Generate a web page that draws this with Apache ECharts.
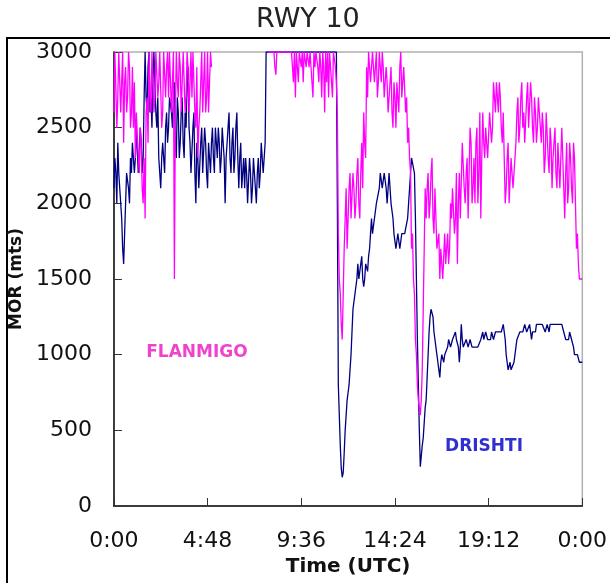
<!DOCTYPE html>
<html>
<head>
<meta charset="utf-8">
<script src="https://cdn.jsdelivr.net/npm/echarts@6/dist/echarts.min.js"></script>
<style>
  html, body { margin: 0; padding: 0; background: #fff; }
  #chart { width: 610px; height: 583px; }
</style>
</head>
<body>
<div id="chart"></div>
<script>
// readings every 3 minutes, kept as two lists:
// *On = samples at 0:00, 0:06, 0:12 ...  *Mid = samples at 0:03, 0:09, 0:15 ...
// one row per hour
const STEP_MIN = 6;
const xTicks = ['0:00', '4:48', '9:36', '14:24', '19:12', '0:00'];
const yTicks = [0, 500, 1000, 1500, 2000, 2500, 3000];

// FLANMIGO (magenta), MOR in metres
const flanmigoOn = [
  2600, 3000, 2700, 3000, 2800, 2400, 2900, 2700, 2900, 2600,
  2500, 2300, 2600, 2200, 2400, 2000, 1900, 2700, 3000, 2600,
  3000, 2700, 3000, 2800, 3000, 2600, 3000, 2900, 2700, 3000,
  2800, 1500, 3000, 2700, 2900, 2600, 3000, 2700, 2900, 2800,
  2700, 3000, 2500, 2300, 2600, 3000, 2800, 2600, 3000, 2800,
  2900, null, null, null, null, null, null, null, null, null,
  null, null, null, null, null, null, null, null, null, null,
  null, null, null, null, null, null, null, null, null, 3000,
  3000, 3000, 3000, 2850, 3000, 3000, 3000, 3000, 3000, 3000,
  3000, 3000, 2800, 2700, 3000, 3000, 2900, 2800, 3000, 3000,
  2900, 3000, 2700, 2900, 3000, 2800, 2900, 3000, 2600, 2800,
  2700, 2900, 2700, 3000, 2800, 1800, 1400, 1100, 1700, 2100,
  1900, 2200, 1900, 2100, 2000, 2300, 1900, 2400, 2600, 2300,
  2700, 3000, 2800, 3000, 2900, 2700, 3000, 2800, 2900, 2700,
  2800, 2600, 2900, 2500, 2700, 2800, 2600, 3000, 2700, 2900,
  2700, 2500, 2200, 1800, 1400, 1000, 700, 600, 900, 1700,
  1900, 2200, 2000, 2300, 1800, 1900, 1700, 1500, 1600, 1500,
  1600, 1800, 1700, 1900, 2100, 1900, 1600, 2200, 1900, 2400,
  2000, 2300, 1900, 2400, 2100, 2000, 2500, 2200, 1900, 2600,
  2300, 2500, 2300, 2600, 2500, 2700, 2800, 2600, 2700, 2400,
  2300, 2100, 2400, 2000, 2300, 2200, 2400, 2700, 2500, 2800,
  2600, 2400, 2800, 2500, 2700, 2400, 2600, 2500, 2600, 2400,
  2500, 2300, 2600, 2200, 2400, 2300, 2500, 2100, 2400, 2300,
  2300, 1900, 2400, 2100, 2300, 2000, 2300, 1700, 1600, 1500,
  1500
];
const flanmigoMid = [
  3000, 2500, 3000, 2600, 3000, 2800, 2600, 3000, 2500, 2900,
  2800, 2600, 2300, 2500, 2100, 2300, 2600, 2400, 2700, 3000,
  2600, 3000, 2700, 3000, 2500, 3000, 2700, 3000, 3000, 2600,
  3000, 2600, 2800, 3000, 2600, 3000, 2600, 3000, 2600, 3000,
  3000, 2600, 2900, 2500, 2800, 2600, 3000, 2700, 2600, 3000,
  null, null, null, null, null, null, null, null, null, null,
  null, null, null, null, null, null, null, null, null, null,
  null, null, null, null, null, null, null, null, null, 3000,
  3000, 3000, 2900, 3000, 3000, 3000, 3000, 3000, 3000, 3000,
  3000, 3000, 3000, 3000, 2800, 3000, 3000, 3000, 2900, 3000,
  3000, 2800, 3000, 3000, 2900, 3000, 2700, 2900, 3000, 3000,
  3000, 2800, 3000, 2900, 2600, 1500, 1200, 1400, 1900, 1700,
  2100, 1900, 2200, 1900, 2200, 2000, 2200, 2100, 2400, 2900,
  3000, 2800, 3000, 2800, 3000, 2800, 2900, 3000, 2700, 2900,
  2600, 2800, 2600, 2800, 2500, 2700, 2900, 2700, 2900, 2600,
  2400, 2300, 1700, 1500, 1100, 800, 650, 700, 1300, 2100,
  2100, 1900, 2200, 1900, 2100, 1700, 1800, 1700, 1500, 1800,
  1700, 1600, 2000, 2100, 1800, 2200, 2000, 1900, 2400, 2100,
  2200, 1900, 2500, 2000, 2300, 2400, 2000, 2600, 2300, 2400,
  2500, 2300, 2600, 2400, 2800, 2600, 2700, 2800, 2500, 2600,
  2000, 2300, 2000, 2300, 2100, 2300, 2600, 2400, 2700, 2500,
  2400, 2700, 2500, 2800, 2500, 2700, 2400, 2700, 2500, 2600,
  2200, 2600, 2300, 2500, 2100, 2400, 2200, 2400, 2100, 2500,
  2100, 2200, 2000, 2400, 2100, 2400, 2000, 1800, 1500, 1500
];

// DRISHTI (navy), MOR in metres
const drishtiOn = [
  2100, 2200, 2400, 2100, 1900, 1600, 2000, 2200, 2000, 2200,
  2400, 2300, 2500, 2200, 2400, 2300, 3000, 2600, 3000, 2700,
  2800, 3000, 2500, 2300, 2100, 2400, 2200, 2600, 2500, 2700,
  2500, 2800, 2300, 2600, 2400, 2700, 2300, 2500, 2900, 2400,
  2200, 2600, 2000, 2300, 2100, 2500, 2200, 2400, 2100, 2300,
  2400, 2300, 2500, 2300, 2400, 2300, 2500, 2000, 2400, 2600,
  2200, 2500, 2300, 2600, 2100, 2400, 2200, 2100, 2200, 2000,
  2200, 2100, 2200, 2000, 2300, 2200, 2400, 2200, 3000, 3000,
  3000, 3000, 3000, 3000, 3000, 3000, 3000, 3000, 3000, 3000,
  3000, 3000, 3000, 3000, 3000, 3000, 3000, 3000, 3000, 3000,
  3000, 3000, 3000, 3000, 3000, 3000, 3000, 3000, 3000, 3000,
  3000, 3000, 3000, 3000, 3000, 800, 400, 190, 350, 600,
  750, 900, 1150, 1300, 1400, 1600, 1500, 1650, 1450, 1600,
  1550, 1700, 1900, 1800, 1900, 2000, 2100, 2200, 2100, 2200,
  2000, 2200, 2000, 1900, 1800, 1700, 1800, 1700, 1800, 1800,
  1800, 2000, 2200, 2300, 2200, 1500, 800, 260, 400, 550,
  700, 1000, 1250, 1300, 1150, 1050, 950, 850, 1000, 950,
  1000, 1050, 1100, 1050, 1100, 1150, 1100, 950, 1200, 1050,
  1050, 1100, 1050, 1100, 1050, 1050, 1050, 1050, 1100, 1150,
  1100, 1150, 1100, 1100, 1150, 1100, 1150, 1150, 1150, 1150,
  1200, 1000, 900, 950, 900, 950, 1050, 1100, 1150, 1150,
  1150, 1200, 1150, 1200, 1100, 1150, 1150, 1200, 1200, 1200,
  1200, 1150, 1200, 1150, 1200, 1200, 1200, 1200, 1200, 1200,
  1200, 1150, 1100, 1100, 1150, 1100, 1000, 1000, 1000, 950,
  950
];
const drishtiMid = [
  2300, 2000, 2200, 2000, 1700, 1800, 2200, 2100, 2300, 2400,
  2200, 2500, 2200, 2500, 2200, 2700, 2700, 2900, 2600, 2500,
  3000, 2600, 2700, 2200, 2300, 2300, 2500, 2400, 2700, 2600,
  2700, 2400, 2700, 2300, 2600, 2400, 2600, 2800, 2500, 2200,
  2500, 2200, 2400, 2100, 2400, 2200, 2500, 2200, 2400, 2200,
  2500, 2200, 2400, 2500, 2200, 2500, 2300, 2300, 2500, 2300,
  2400, 2200, 2500, 2300, 2300, 2100, 2300, 2300, 2000, 2300,
  2000, 2300, 2100, 2200, 2100, 2400, 2200, 2400, 3000, 3000,
  3000, 3000, 3000, 3000, 3000, 3000, 3000, 3000, 3000, 3000,
  3000, 3000, 3000, 3000, 3000, 3000, 3000, 3000, 3000, 3000,
  3000, 3000, 3000, 3000, 3000, 3000, 3000, 3000, 3000, 3000,
  3000, 3000, 3000, 3000, 2000, 600, 250, 220, 500, 700,
  800, 1000, 1300, 1400, 1500, 1500, 1600, 1500, 1500, 1600,
  1650, 1800, 1800, 1900, 2000, 2000, 2200, 2100, 2200, 2100,
  2100, 2100, 2000, 1800, 1700, 1800, 1700, 1800, 1800, 1800,
  1900, 2100, 2300, 2300, 1900, 1100, 500, 250, 450, 650,
  850, 1150, 1300, 1250, 1100, 1000, 900, 950, 1000, 1000,
  1000, 1100, 1050, 1100, 1100, 1100, 1050, 1050, 1100, 1050,
  1100, 1050, 1100, 1050, 1050, 1050, 1050, 1050, 1100, 1100,
  1150, 1100, 1100, 1150, 1100, 1150, 1150, 1150, 1150, 1200,
  1100, 950, 900, 900, 900, 1000, 1100, 1100, 1150, 1150,
  1200, 1150, 1150, 1150, 1150, 1150, 1200, 1200, 1200, 1200,
  1200, 1150, 1200, 1200, 1200, 1200, 1200, 1200, 1200, 1200,
  1150, 1100, 1100, 1150, 1100, 1050, 1000, 1000, 950, 950
];

const FONT = '"DejaVu Sans", Arial, sans-serif';

// merge the two reading lists back into time order
function toPairs(on, mid) {
  const out = [];
  on.forEach((v, i) => {
    out.push([i * STEP_MIN, v]);
    if (i < mid.length) out.push([i * STEP_MIN + STEP_MIN / 2, mid[i]]);
  });
  return out;
}

const chart = echarts.init(document.getElementById('chart'));

chart.setOption({
  animation: false,
  backgroundColor: '#fff',
  title: {
    text: 'RWY 10',
    left: 256,
    top: 6,
    padding: 0,
    textStyle: { fontFamily: FONT, fontSize: 27, fontWeight: 'normal', color: '#222' }
  },
  grid: {
    left: 112, right: 25, top: 52, bottom: 77,
    show: true, borderColor: '#b0b0b0', borderWidth: 1.5
  },
  xAxis: {
    type: 'value',
    min: 0, max: 1440, interval: 288,
    name: 'Time (UTC)',
    nameLocation: 'middle',
    nameGap: 50,
    nameTextStyle: { fontFamily: FONT, fontSize: 20, fontWeight: 'bold', color: '#111' },
    axisLine: { lineStyle: { color: '#111', width: 1.5 } },
    axisTick: { inside: true, length: 8, lineStyle: { color: '#333' } },
    axisLabel: {
      margin: 24, fontFamily: FONT, fontSize: 22, color: '#111',
      formatter: v => xTicks[Math.round(v / 288)]
    },
    splitLine: { show: false }
  },
  yAxis: {
    type: 'value',
    min: 0, max: 3000, interval: 500,
    name: 'MOR (mts)',
    nameLocation: 'middle',
    nameGap: 83,
    nameTextStyle: { fontFamily: FONT, fontSize: 17, fontWeight: 'bold', color: '#111' },
    axisLine: { show: true, lineStyle: { color: '#111', width: 1.5 } },
    axisTick: { show: true, inside: true, length: 8, lineStyle: { color: '#333' } },
    axisLabel: { margin: 22, fontFamily: FONT, fontSize: 22, color: '#111',
      formatter: v => String(yTicks[Math.round(v / 500)]) },
    splitLine: { show: false }
  },
  graphic: [
    { type: 'rect', shape: { x: 7, y: 38, width: 700, height: 700 },
      style: { fill: 'none', stroke: '#000', lineWidth: 2 }, silent: true },
    { type: 'text', x: 197, y: 353,
      style: { text: 'FLANMIGO', fill: '#ee44cc', font: 'bold 17px ' + FONT,
        textAlign: 'center', textVerticalAlign: 'middle' } },
    { type: 'text', x: 484, y: 447,
      style: { text: 'DRISHTI', fill: '#3030d0', font: 'bold 17px ' + FONT,
        textAlign: 'center', textVerticalAlign: 'middle' } }
  ],
  series: [
    {
      name: 'DRISHTI', type: 'line', data: toPairs(drishtiOn, drishtiMid),
      showSymbol: false, connectNulls: false,
      lineStyle: { color: '#000080', width: 1.3 }
    },
    {
      name: 'FLANMIGO', type: 'line', data: toPairs(flanmigoOn, flanmigoMid),
      showSymbol: false, connectNulls: false,
      lineStyle: { color: '#ff00ff', width: 1.3 }
    }
  ]
});
</script>
</body>
</html>
